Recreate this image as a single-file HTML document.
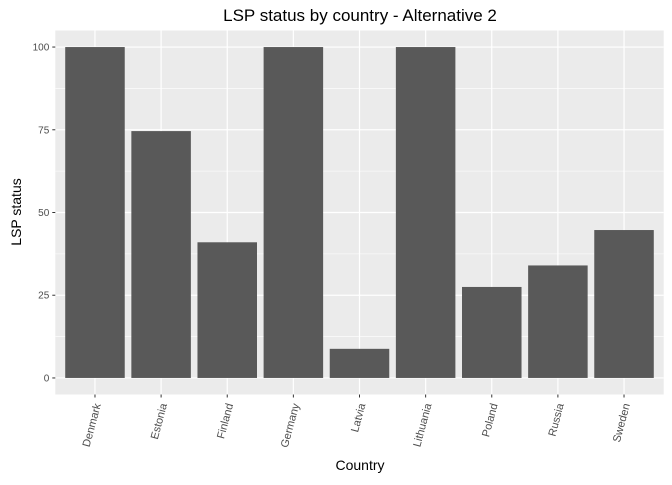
<!DOCTYPE html>
<html><head><meta charset="utf-8"><style>
body{margin:0;background:#fff;font-family:"Liberation Sans",sans-serif;}
</style></head><body>
<svg id="chart" width="672" height="480" xmlns="http://www.w3.org/2000/svg">
<text x="360" y="21" font-size="17" text-anchor="middle" fill="#000">LSP status by country - Alternative 2</text>
<rect x="55.3" y="30.5" width="608.4" height="364" fill="#ebebeb"/>
<g id="grid"></g><g id="bars"></g><g id="axes"></g>
<text x="360" y="470" font-size="14" text-anchor="middle">Country</text>
<text transform="translate(21,212) rotate(-90)" font-size="14" text-anchor="middle">LSP status</text>
</svg>
<script>
const categories=["Denmark","Estonia","Finland","Germany","Latvia","Lithuania","Poland","Russia","Sweden"];
const values=[100,74.6,41,100,8.8,100,27.5,34,44.7];
const yTicks=[0,25,50,75,100];
const ns="http://www.w3.org/2000/svg";
const L=55.3,R=663.7,T=30.5,B=394.5;
const step=(R-L)/(categories.length-1+1.2);
const x=i=>L+step*(0.6+i);
const y=v=>B-(v+5)/110*(B-T);
function mk(t,a,p){const e=document.createElementNS(ns,t);for(const k in a)e.setAttribute(k,a[k]);p.appendChild(e);return e;}
const g=document.getElementById('grid'),bg=document.getElementById('bars'),ax=document.getElementById('axes');
for(let i=0;i<yTicks.length-1;i++){const v=(yTicks[i]+yTicks[i+1])/2;
const l=mk('line',{x1:L,x2:R,y1:y(v),y2:y(v),stroke:'#fff','stroke-width':0.6},g);
}
yTicks.forEach(v=>{const l=mk('line',{x1:L,x2:R,y1:y(v),y2:y(v),stroke:'#fff','stroke-width':1.2},g);

const t=mk('line',{x1:L-3,x2:L,y1:y(v),y2:y(v),stroke:'#333','stroke-width':1},ax);

const tx=mk('text',{x:L-6,y:y(v)+3.5,'font-size':10,'text-anchor':'end',fill:'#4d4d4d'},ax);tx.textContent=v;
});
categories.forEach((c,i)=>{const cx=x(i);
const l=mk('line',{x1:cx,x2:cx,y1:T,y2:B,stroke:'#fff','stroke-width':1.2},g);

const w=step*0.9;
const r=mk('rect',{x:cx-w/2,y:y(values[i]),width:w,height:y(0)-y(values[i]),fill:'#595959'},bg);

const t=mk('line',{x1:cx,x2:cx,y1:B,y2:B+3,stroke:'#333','stroke-width':1},ax);

const tx=mk('text',{transform:`translate(${cx+6},${B+10}) rotate(-75)`,'font-size':11,'text-anchor':'end',fill:'#4d4d4d'},ax);tx.textContent=c;
});
</script>
</body></html>
